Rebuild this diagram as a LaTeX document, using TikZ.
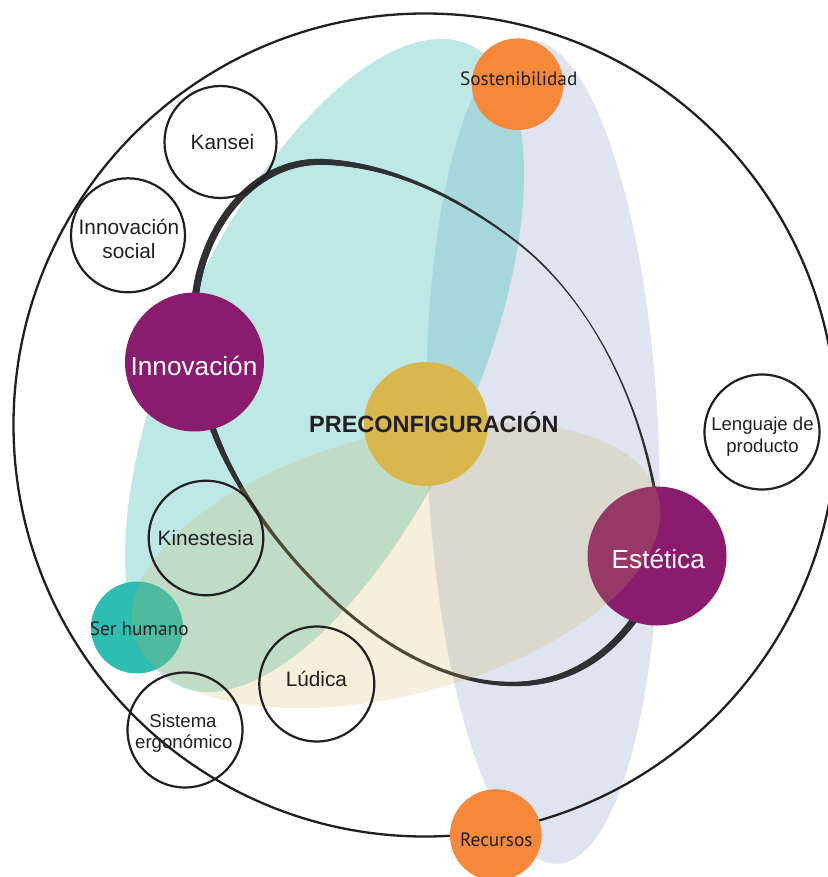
\documentclass[tikz,border=0pt]{standalone}
\usepackage{fontspec}
\setmainfont{Liberation Sans}
\newfontfamily\myr{PT Sans}
\usetikzlibrary{decorations.markings}
\definecolor{blueE}{RGB}{95,120,180}
\definecolor{tealE}{RGB}{38,182,172}
\definecolor{beigeE}{RGB}{205,175,75}
\definecolor{purp}{RGB}{138,28,110}
\definecolor{orng}{RGB}{245,136,58}
\definecolor{tealC}{RGB}{47,189,179}
\definecolor{gold}{RGB}{216,184,78}
\definecolor{linecol}{RGB}{46,48,50}
\definecolor{ink}{RGB}{35,31,32}

\newcommand\knotlist{0/6.9/150/6.9,150/6.9/205/5.9,205/5.9/300/3.3,300/3.3/410/1.8,410/1.8/520/1.0,520/1.0/610/1.5,610/1.5/695/2.7,695/2.7/770/4.5,770/4.5/840/6.9,840/6.9/900/6.4,900/6.4/940/5.4,940/5.4/980/4.2,980/4.2/1040/3.3,1040/3.3/1120/2.8,1120/2.8/1255/3.1,1255/3.1/1320/4.3,1320/4.3/1388/6.0,1388/6.0/1440/6.9,1440/6.9/1530/6.9}

\newcommand\varseg{%
  \pgfmathsetmacro\sdist{(\pgfkeysvalueof{/pgf/decoration/mark info/distance from start}/\pgfdecoratedpathlength)*1519}%
  \xdef\curw{5}%
  \foreach \ka/\wa/\kb/\wb in \knotlist {%
    \ifdim\sdist pt<\ka pt\relax\else\ifdim\sdist pt>\kb pt\relax\else
      \pgfmathsetmacro\tmpw{\wa+(\wb-\wa)*(\sdist-\ka)/(\kb-\ka)}%
      \xdef\curw{\tmpw}%
    \fi\fi}%
  \draw[line width=\curw pt, line cap=round, linecol] (-1.5pt,0pt) -- (1.5pt,0pt);%
}

\tikzset{
  ring/.style={draw=ink, line width=2.2pt},
  lbl/.style={anchor=base, inner sep=0pt, text=ink, font=\fontsize{20.8}{24}\selectfont},
  lbls/.style={anchor=base, inner sep=0pt, text=ink, font=\fontsize{18.6}{22}\selectfont},
  lblw/.style={anchor=base, inner sep=0pt, text=white, font=\fontsize{26.2}{30}\selectfont},
  lblm/.style={anchor=base, inner sep=0pt, text=ink, font=\myr\fontsize{19.3}{22}\selectfont},
  lblb/.style={anchor=base, inner sep=0pt, text=ink, font=\bfseries\fontsize{23.5}{27}\selectfont},
}

\begin{document}
\begin{tikzpicture}[x=1pt,y=-1pt]
\useasboundingbox (0,0) rectangle (827,877);
\fill[white] (0,0) rectangle (827,877);
% translucent ellipses (lower layers)
\fill[blueE, opacity=0.2, rotate around={2:(543,452)}] (543,452) ellipse [x radius=116pt, y radius=412pt];
\fill[tealE, opacity=0.3, rotate around={65.6:(324.5,365.5)}] (324.5,365.5) ellipse [x radius=352pt, y radius=150pt];
% variable-width rounded triangle
\path[postaction={decorate}, decoration={markings, mark=between positions 0 and 1 step 2.5pt with {\varseg}}]
  (195,300) .. controls (202,228) and (253,158.4) .. (325,162)
  .. controls (393,164.7) and (458.6,198.2) .. (513,239)
  .. controls (587.4,294.8) and (634.8,390.9) .. (653,482)
  .. controls (662.8,531) and (663,581) .. (633,621)
  .. controls (603,661) and (563,684) .. (513,684)
  .. controls (423,684) and (336.3,613.2) .. (280,543)
  .. controls (252.5,508.7) and (228.4,470.4) .. (213,429)
  .. controls (197.3,386.7) and (191,339.8) .. (195,300) -- cycle;
\fill[purp] (657,556) circle[radius=69.5pt];
\fill[tealC] (137,627.5) circle[radius=46pt];
\fill[beigeE, opacity=0.2, rotate around={14.6:(396,565)}] (396,565) ellipse [x radius=271pt, y radius=130pt];
\fill[gold] (426,424) circle[radius=62pt];
\fill[purp] (194.5,362) circle[radius=69.5pt];
\draw[ink, line width=2.3pt] (425,425) circle[radius=411.5pt];
\fill[orng] (517.5,84.2) circle[radius=45.8pt];
\fill[orng] (495.8,835) circle[radius=45.8pt];
% outline circles
\draw[ring] (220.5,142) circle[radius=56pt];
\draw[ring] (128,235.3) circle[radius=57pt];
\draw[ring] (762,432) circle[radius=57.5pt];
\draw[ring] (206,538) circle[radius=57.3pt];
\draw[ring] (316.8,684) circle[radius=57.5pt];
\draw[ring] (185,730) circle[radius=57.5pt];
% labels
\node[lbl] (tkansei) at (222.5,150) {Kansei};
\node[lbl] (tis1) at (129,235) {Innovación};
\node[lbl] (tis2) at (129,258.3) {social};
\node[lblw] (tinn) at (194,375) {Innovación};
\node[lblb] (tpre) at (433.8,432.3) {PRECONFIGURACIÓN};
\node[lbls] (tlen1) at (762.5,430.7) {Lenguaje de};
\node[lbls] (tlen2) at (762.5,452.3) {producto};
\node[lblw] (test) at (658.3,568.3) {Estética};
\node[lbl] (tkin) at (205.7,545.7) {Kinestesia};
\node[lblm] (tser) at (139.2,635) {Ser humano};
\node[lbl] (tlud) at (316.4,686.7) {Lúdica};
\node[lbls] (tsis1) at (183,727.3) {Sistema};
\node[lbls] (tsis2) at (183.8,748.3) {ergonómico};
\node[lblm] (tsos) at (518.7,86) {Sostenibilidad};
\node[lblm] (trec) at (496.3,846.7) {Recursos};
\end{tikzpicture}
\end{document}
